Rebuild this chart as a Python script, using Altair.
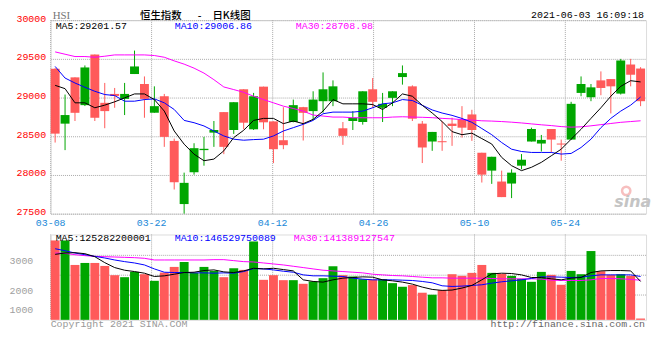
import altair as alt
import pandas as pd

# ---------------- data ----------------
dates = ["03-08","03-09","03-10","03-11","03-12","03-15","03-16","03-17","03-18","03-19",
         "03-22","03-23","03-24","03-25","03-26","03-29","03-30","03-31",
         "04-01","04-07","04-08","04-09","04-12","04-13","04-14","04-15","04-16",
         "04-19","04-20","04-21","04-22","04-23","04-26","04-27","04-28","04-29","04-30",
         "05-03","05-04","05-05","05-06","05-07","05-10","05-11","05-12","05-13","05-14",
         "05-17","05-18","05-20","05-21","05-24","05-25","05-26","05-27","05-28","05-31",
         "06-01","06-02","06-03"]

opens = [29372, 28663, 29261, 28902, 29556, 28932, 29047, 28983, 29304, 29175,
         28804, 29017, 28440, 27624, 28035, 28321, 28547, 28812, 28581, 29107,
         28590, 29141, 28692, 28449, 28684, 28876, 28825, 28953, 28953, 28603,
         28697, 28684, 29107, 28868, 28996, 29265, 29145, 28663, 28432, 28436,
         28663, 28718, 28782, 28287, 28056, 27915, 27889, 28120, 28432, 28406,
         28594, 28406, 28457, 29060, 29004, 29222, 29239, 29051, 29427, 29375]
closes = [28534, 28774, 28803, 29389, 28739, 28825, 29021, 29047, 29402, 28983,
          28889, 28492, 27906, 27898, 28346, 28338, 28581, 28363, 28940, 28675,
          29017, 28680, 28333, 28385, 28902, 28803, 28974, 29107, 29145, 28505,
          28740, 29081, 28945, 28919, 29081, 29316, 28727, 28355, 28556, 28423,
          28633, 28611, 28581, 28004, 28235, 27714, 28030, 28197, 28594, 28453,
          28457, 28398, 28919, 29175, 29132, 29124, 29145, 29479, 29295, 28953]
highs = [29380, 29039, 29261, 29415, 29556, 29189, 29124, 29189, 29607, 29273,
         29145, 29047, 28470, 28030, 28410, 28492, 28697, 28812, 28940, 29107,
         29060, 29141, 28692, 28876, 28974, 28880, 29081, 29325, 29222, 28684,
         28825, 29081, 29252, 29060, 29081, 29415, 29158, 28697, 28556, 28697,
         28740, 28889, 28842, 28287, 28235, 28056, 28073, 28270, 28611, 28517,
         28594, 28457, 28945, 29273, 29175, 29338, 29239, 29500, 29500, 29393]
lows = [28419, 28321, 28697, 28890, 28697, 28604, 28868, 28774, 29304, 28739,
        28804, 28363, 27812, 27500, 28004, 28120, 28363, 28269, 28530, 28590,
        28581, 28590, 28154, 28333, 28680, 28445, 28714, 28804, 28889, 28389,
        28581, 28650, 28868, 28684, 28889, 29167, 28697, 28154, 28312, 28312,
        28376, 28483, 28440, 27902, 27885, 27714, 27701, 28073, 28432, 28303,
        28291, 28184, 28457, 29017, 28953, 29030, 28795, 29039, 29145, 28889]

ma5 = [29158, 29115, 28932, 28932, 28868, 28902, 28945, 28996, 29047, 29047,
       28974, 28825, 28568, 28398, 28269, 28184, 28205, 28312, 28483, 28577,
       28705, 28731, 28731, 28663, 28697, 28663, 28718, 28825, 28974, 28919,
       28919, 28919, 28910, 28846, 28932, 29047, 29017, 28900, 28800, 28690,
       28560, 28520, 28540, 28470, 28400, 28227, 28120, 28056, 28099, 28163,
       28248, 28333, 28462, 28590, 28731, 28868, 29017, 29145, 29218, 29202]
ma10 = [29402, 29252, 29188, 29133, 29081, 29039, 29026, 28953, 28953, 28974,
        28983, 28932, 28846, 28705, 28675, 28633, 28568, 28504, 28462, 28449,
        28457, 28462, 28504, 28568, 28611, 28654, 28705, 28791, 28812, 28812,
        28812, 28825, 28868, 28919, 28932, 28974, 28962, 28900, 28840, 28800,
        28770, 28730, 28680, 28600, 28520, 28419, 28333, 28303, 28291, 28291,
        28291, 28270, 28278, 28355, 28462, 28611, 28731, 28825, 28902, 29007]
ma30 = [29590, 29560, 29530, 29530, 29521, 29534, 29551, 29551, 29551, 29551,
        29543, 29521, 29474, 29432, 29380, 29316, 29231, 29137, 29103, 29068,
        29017, 28974, 28932, 28889, 28859, 28825, 28774, 28761, 28748, 28748,
        28739, 28739, 28739, 28739, 28748, 28752, 28748, 28745, 28740, 28731,
        28725, 28715, 28709, 28700, 28696, 28690, 28682, 28672, 28660, 28648,
        28638, 28625, 28618, 28622, 28635, 28650, 28665, 28680, 28690, 28700]

volumes = [3667, 3667, 2844, 2911, 2911, 2811, 2500, 2433, 2611, 2533,
           2311, 2589, 2778, 2944, 2578, 2778, 2644, 2433, 2733, 2678,
           3633, 2344, 2500, 2333, 2333, 2211, 2289, 2400, 2800, 2500,
           2456, 2367, 2356, 2367, 2233, 2111, 2167, 1911, 1844, 2000,
           2533, 2478, 2578, 2844, 2578, 2544, 2478, 2378, 2278, 2611,
           2511, 2178, 2644, 2533, 3311, 2633, 2511, 2533, 2478, 1044]
vma5 = [3200, 3244, 3256, 3222, 3122, 2922, 2756, 2667, 2622, 2567,
        2456, 2478, 2533, 2589, 2600, 2656, 2678, 2611, 2589, 2644,
        2733, 2711, 2733, 2689, 2644, 2344, 2289, 2267, 2344, 2400,
        2422, 2444, 2433, 2344, 2311, 2267, 2200, 2100, 2022, 1989,
        2000, 2067, 2156, 2344, 2544, 2567, 2556, 2511, 2422, 2422,
        2378, 2344, 2400, 2422, 2589, 2644, 2656, 2656, 2644, 2289]
vma10 = [3389, 3322, 3244, 3189, 3133, 3078, 3011, 2956, 2911, 2844,
         2711, 2600, 2589, 2589, 2578, 2578, 2567, 2578, 2567, 2622,
         2722, 2711, 2678, 2633, 2600, 2511, 2478, 2478, 2467, 2456,
         2400, 2367, 2344, 2344, 2344, 2333, 2322, 2289, 2244, 2144,
         2122, 2133, 2156, 2178, 2233, 2278, 2311, 2344, 2389, 2444,
         2444, 2433, 2422, 2433, 2478, 2511, 2511, 2511, 2511, 2456]
vma30 = [3244, 3233, 3189, 3156, 3133, 3122, 3111, 3100, 3089, 3067,
         3011, 3011, 3011, 3011, 3011, 3011, 3022, 3022, 2989, 2956,
         2944, 2911, 2878, 2844, 2800, 2756, 2711, 2667, 2644, 2622,
         2600, 2578, 2533, 2511, 2489, 2478, 2456, 2433, 2411, 2411,
         2400, 2400, 2400, 2400, 2389, 2378, 2378, 2378, 2378, 2367,
         2333, 2322, 2322, 2322, 2344, 2389, 2389, 2378, 2356, 2333]

tick_dates = ["03-08", "03-22", "04-12", "04-26", "05-10", "05-24"]
price_ticks = [27500, 28000, 28500, 29000, 29500, 30000]
vol_ticks = [1000, 2000, 3000]
vol_grid = [1833, 2500, 3167]
ma_labels = ["MA5:29201.57", "MA10:29006.86", "MA30:28708.98"]
vol_ma_labels = ["MA5:125282200001", "MA10:146529750089", "MA30:141389127547"]
ma_colors = ["#000000", "#0000ff", "#ff00ff"]
header_code = "HSI"
title_parts = ["恒生指数", "-", "日K线图"]
timestamp = "2021-06-03 16:09:18"
footer_left = "Copyright 2021 SINA.COM"
footer_right = "http://finance.sina.com.cn"

# ---------------- styling ----------------
MONO = "Liberation Mono"
CJK = "Noto Sans CJK SC"
UP = "#00a600"
DOWN = "#ff5a5a"
GRID = "#aaaaaa"
W, H1, H2 = 600, 195, 86

df = pd.DataFrame({
    "i": list(range(len(dates))), "date": dates,
    "open": opens, "close": closes, "high": highs, "low": lows,
    "ma5": ma5, "ma10": ma10, "ma30": ma30,
    "vol": volumes, "vma5": vma5, "vma10": vma10, "vma30": vma30,
})
n = len(dates)
ticks_df = pd.DataFrame({"label": tick_dates,
                         "idx": [dates.index(d) for d in tick_dates]})

xs = alt.Scale(domain=[0, n], nice=False, zero=False)
ys = alt.Scale(domain=[27500, 30000], nice=False, zero=False)
vs = alt.Scale(domain=[1000, 3867], nice=False, zero=False)

price_axis = alt.Axis(values=price_ticks, title=None, format="d", labelOverlap=False,
                      labelColor="#ff0000", labelFont=MONO,
                      labelFontSize=10, labelPadding=5, ticks=False, tickSize=0, domain=False,
                      grid=True, gridColor=GRID, gridDash=[1, 1], labelOffset=-2)
vol_axis = alt.Axis(values=vol_ticks, title=None, format="d", labelOverlap=False,
                    labelColor="#a0a0a0", labelFont=MONO,
                    labelFontSize=10, labelAlign="left", labelPadding=42, ticks=False,
                    tickSize=0, domain=False, grid=False,
                    labelOffset={"condition": {"test": "datum.value == 1000", "value": -10}, "value": 0})

base = alt.Chart(df).transform_calculate(
    x0="datum.i", x1="datum.i + 0.9", xm="datum.i + 0.45",
    dir="datum.close >= datum.open ? 'up' : 'down'",
    bt="max(datum.open, datum.close)",
    bb="max(datum.open, datum.close) - min(datum.open, datum.close) < 13 ? max(datum.open, datum.close) - 13 : min(datum.open, datum.close)",
)
col = alt.Color("dir:N", scale=alt.Scale(domain=["up", "down"], range=[UP, DOWN]), legend=None)


def txt(t, x, y, color, size=10, font=MONO, align="left", weight="normal", style="normal",
        baseline="middle"):
    return alt.Chart(pd.DataFrame({"t": [t]})).mark_text(
        align=align, baseline=baseline, font=font, fontSize=size, color=color,
        fontWeight=weight, fontStyle=style
    ).encode(x=alt.value(x), y=alt.value(y), text="t:N")


vgrid = alt.Chart(ticks_df).transform_calculate(pos=f"datum.idx * {n} / {n - 1}").mark_rule(
    color=GRID, strokeDash=[1, 1], strokeWidth=1
).encode(x=alt.X("pos:Q", scale=xs, axis=None))

date_labels = alt.Chart(ticks_df).transform_calculate(pos=f"datum.idx * {n} / {n - 1}").mark_text(
    font=MONO, fontSize=10, color="#1888d8", baseline="middle", align="center"
).encode(x=alt.X("pos:Q", scale=xs, axis=None), y=alt.value(H1 + 9), text="label:N")

wicks = base.mark_rule(strokeWidth=1).encode(
    x=alt.X("xm:Q", scale=xs, axis=None),
    y=alt.Y("low:Q", scale=ys, axis=price_axis), y2="high:Q", color=col)

bodies = base.mark_rect().encode(
    x=alt.X("x0:Q", scale=xs, axis=None), x2="x1:Q",
    y=alt.Y("bb:Q", scale=ys, axis=price_axis), y2="bt:Q", color=col)

lines = [base.mark_line(color=c, strokeWidth=1).encode(
    x=alt.X("xm:Q", scale=xs, axis=None), y=alt.Y(f"{f}:Q", scale=ys, axis=price_axis))
    for f, c in zip(["ma30", "ma10", "ma5"], ma_colors[::-1])]

sina_eye = alt.Chart(pd.DataFrame({"t": [0]})).mark_point(
    shape="circle", size=70, color="#f4a4a4", strokeWidth=2.5, filled=False
).encode(x=alt.value(580), y=alt.value(172))

main = alt.layer(
    vgrid, wicks, bodies, *lines, date_labels,
    txt(header_code, 2, -1.3, "#777777", size=11, font="Liberation Serif", baseline="alphabetic"),
    txt(title_parts[0], 90, -1.4, "#000000", size=10.5, font=CJK, weight=500, baseline="alphabetic"),
    txt(title_parts[1], 150, -1.4, "#000000", size=10.5, font=CJK, align="center", weight=500,
        baseline="alphabetic"),
    txt(title_parts[2], 163, -1.4, "#000000", size=10.5, font=CJK, weight=500, baseline="alphabetic"),
    txt(timestamp, 598, -2.3, "#000000", align="right", baseline="alphabetic"),
    txt(ma_labels[0], 5, 5.6, ma_colors[0]),
    txt(ma_labels[1], 125, 5.6, ma_colors[1]),
    txt(ma_labels[2], 247, 5.6, ma_colors[2]),
    sina_eye,
    txt("sina", 568, 183, "#c4c4c4", size=16, font="DejaVu Sans", weight="bold", style="italic"),
).properties(width=W, height=H1)

# ---------------- volume panel ----------------
hgrid_v = alt.Chart(pd.DataFrame({"g": vol_grid})).mark_rule(
    color=GRID, strokeDash=[1, 1], strokeWidth=1
).encode(y=alt.Y("g:Q", scale=vs, axis=vol_axis))

vbars = base.mark_rect().encode(
    x=alt.X("x0:Q", scale=xs, axis=None), x2="x1:Q",
    y=alt.Y("vol:Q", scale=vs, axis=vol_axis), y2=alt.value(H2), color=col)

vlines = [base.mark_line(color=c, strokeWidth=1).encode(
    x=alt.X("xm:Q", scale=xs, axis=None), y=alt.Y(f"{f}:Q", scale=vs, axis=vol_axis))
    for f, c in zip(["vma30", "vma10", "vma5"], ma_colors[::-1])]

vol = alt.layer(
    vgrid, hgrid_v, vbars, *vlines,
    txt(vol_ma_labels[0], 5, 4, ma_colors[0]),
    txt(vol_ma_labels[1], 125, 4, ma_colors[1]),
    txt(vol_ma_labels[2], 245, 4, ma_colors[2]),
    txt(footer_left, 0, H2 + 4.7, "#999999"),
    txt(footer_right, 599, H2 + 4.7, "#666666", align="right"),
).properties(width=W, height=H2)

chart = alt.vconcat(main, vol, spacing=21, bounds="flush").properties(
    padding={"left": 0, "top": 0, "right": 0, "bottom": 0}
).configure_view(stroke="#999999", strokeWidth=1).configure(background="white")

chart.save("out.html", embed_options={"renderer": "svg", "actions": False})
